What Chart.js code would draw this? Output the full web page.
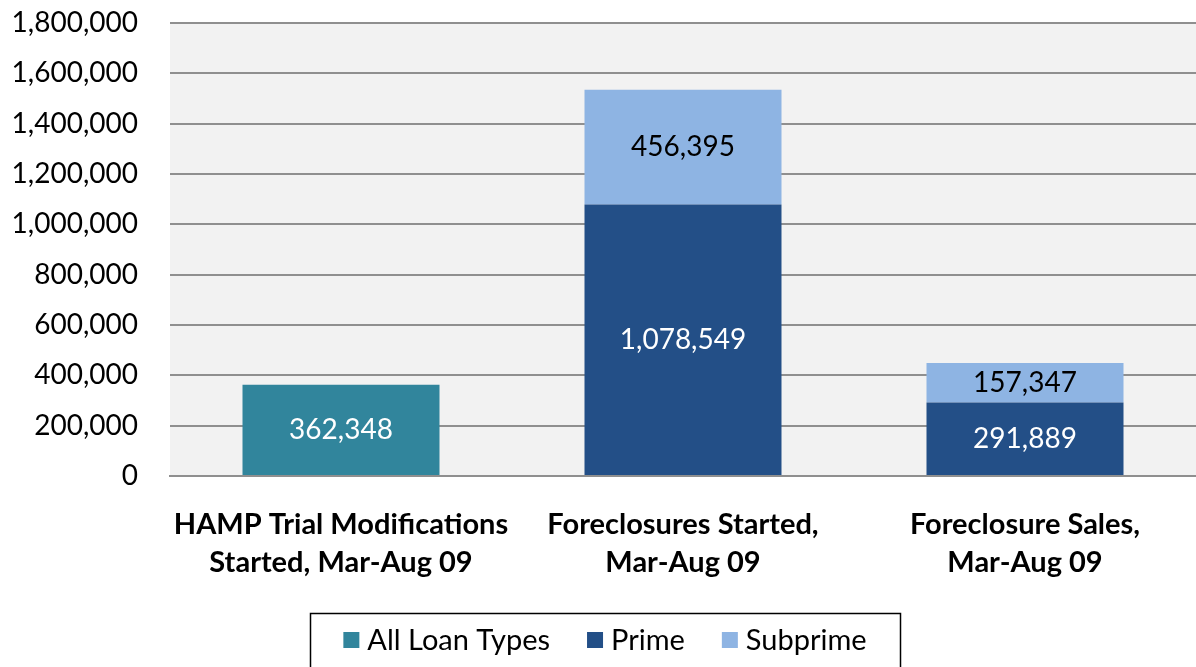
<!DOCTYPE html>
<html>
<head>
<meta charset="utf-8">
<script src="https://cdn.jsdelivr.net/npm/chart.js@4"></script>
<style>
  html, body { margin: 0; padding: 0; background: #fff; }
  #wrap { width: 1196px; height: 667px; }
</style>
</head>
<body>
<div id="wrap"><canvas id="chart"></canvas></div>
<script>
const categories = [
  ["HAMP Trial Modifications", "Started, Mar-Aug 09"],
  ["Foreclosures Started,", "Mar-Aug 09"],
  ["Foreclosure Sales,", "Mar-Aug 09"],
];
const allLoanTypes = [362348, null, null];
const prime = [null, 1078549, 291889];
const subprime = [null, 456395, 157347];

const FONT = "Lato, 'Open Sans', sans-serif";

// grey plot background
const plotBg = {
  id: "plotBg",
  beforeDraw(chart) {
    const { ctx, chartArea: a } = chart;
    ctx.save();
    ctx.fillStyle = "#f2f2f2";
    ctx.fillRect(a.left, a.top, a.right - a.left, a.bottom - a.top);
    ctx.restore();
  },
};

// value labels centred in each segment
const barLabels = {
  id: "barLabels",
  afterDatasetsDraw(chart) {
    const { ctx } = chart;
    ctx.save();
    ctx.font = `28px ${FONT}`;
    ctx.textAlign = "center";
    ctx.textBaseline = "middle";
    chart.data.datasets.forEach((ds, i) => {
      const meta = chart.getDatasetMeta(i);
      meta.data.forEach((bar, j) => {
        const v = ds.data[j];
        if (v == null) return;
        ctx.fillStyle = ds.labelColor;
        ctx.fillText(v.toLocaleString("en-US"), bar.x, (bar.y + bar.base) / 2);
      });
    });
    ctx.restore();
  },
};

// boxed legend at the bottom
const boxLegend = {
  id: "boxLegend",
  afterDraw(chart) {
    const { ctx } = chart;
    ctx.save();
    ctx.font = `29px ${FONT}`;
    ctx.textBaseline = "middle";
    const box = 16, gap = 8, spacing = 37;
    const items = chart.data.datasets.map((ds) => ({
      label: ds.label,
      color: ds.backgroundColor,
      w: box + gap + ctx.measureText(ds.label).width,
    }));
    const total = items.reduce((s, it) => s + it.w, 0) + spacing * (items.length - 1);
    const left = 310, width = 590;
    let x = left + (width - total) / 2;
    const y = 640;
    ctx.strokeStyle = "#000";
    ctx.lineWidth = 1.5;
    ctx.strokeRect(left + 0.5, 613.5, width, 60);
    items.forEach((it) => {
      ctx.fillStyle = it.color;
      ctx.fillRect(x, y - box / 2, box, box);
      ctx.fillStyle = "#000";
      ctx.fillText(it.label, x + box + gap, y + 1);
      x += it.w + spacing;
    });
    ctx.restore();
  },
};

new Chart(document.getElementById("chart"), {
  type: "bar",
  data: {
    labels: categories,
    datasets: [
      { label: "All Loan Types", data: allLoanTypes, backgroundColor: "#31859c", labelColor: "#fff" },
      { label: "Prime", data: prime, backgroundColor: "#234f87", labelColor: "#fff" },
      { label: "Subprime", data: subprime, backgroundColor: "#8eb4e3", labelColor: "#000" },
    ],
  },
  options: {
    responsive: true,
    maintainAspectRatio: false,
    animation: false,
    layout: { padding: { top: 23, right: 0, bottom: 54, left: 0 } },
    datasets: {
      bar: { categoryPercentage: 1, barPercentage: 0.576, skipNull: true },
    },
    plugins: {
      legend: { display: false },
      tooltip: { enabled: false },
    },
    scales: {
      x: {
        stacked: true,
        grid: { display: false, drawTicks: false },
        border: { display: true, color: "#8f8f8f", width: 2 },
        ticks: {
          color: "#000",
          padding: 30,
          maxRotation: 0,
          font: { family: FONT, size: 29, weight: "bold", lineHeight: 1.31 },
        },
        afterFit(s) {
          s.height = 137;
          s.paddingLeft = 0;
          s.paddingRight = 0;
          s.paddingTop = 0;
          s.paddingBottom = 0;
        },
      },
      y: {
        stacked: true,
        min: 0,
        max: 1800000,
        grid: { color: "#8f8f8f", lineWidth: 2, drawTicks: false },
        border: { display: false },
        ticks: {
          stepSize: 200000,
          color: "#000",
          padding: 32,
          font: { family: FONT, size: 28 },
          callback: (v) => v.toLocaleString("en-US"),
        },
        afterFit(s) {
          s.width = 170;
          s.paddingTop = 0;
          s.paddingBottom = 0;
        },
      },
    },
  },
  plugins: [plotBg, barLabels, boxLegend],
});
</script>
</body>
</html>
